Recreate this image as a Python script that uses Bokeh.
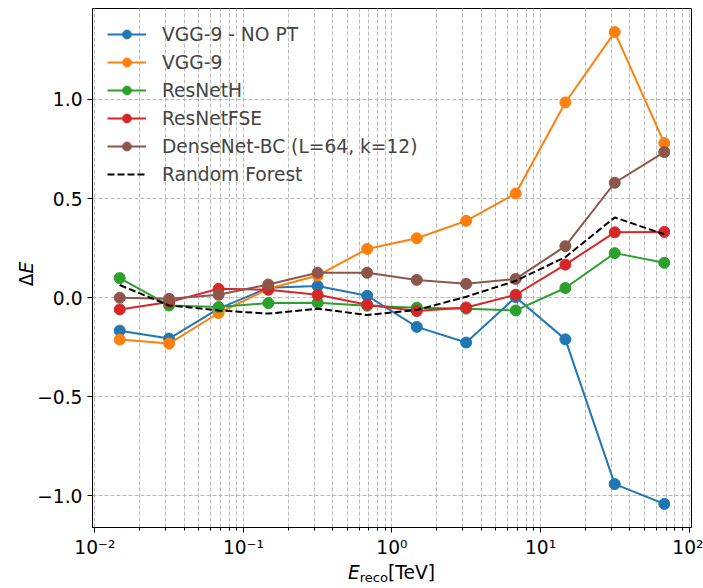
import numpy as np
from bokeh.plotting import figure
from bokeh.layouts import row, column
from bokeh.models import (FixedTicker, CustomJSTickFormatter, Legend,
                          LegendItem, Range1d, Div)
from bokeh.embed import file_html
from bokeh.resources import INLINE

# ---- data ----
energy = [0.0147, 0.0316, 0.0681, 0.147, 0.316, 0.681, 1.47, 3.16, 6.81, 14.7, 31.6, 68.1]

vgg9_nopt = [-0.166, -0.206, -0.055, 0.050, 0.059, 0.010, -0.147, -0.226, 0.003, -0.210, -0.940, -1.040]
vgg9 = [-0.211, -0.231, -0.077, 0.045, 0.112, 0.246, 0.300, 0.388, 0.526, 0.985, 1.340, 0.780]
resneth = [0.099, -0.039, -0.047, -0.027, -0.025, -0.040, -0.050, -0.055, -0.064, 0.049, 0.225, 0.176]
resnetfse = [-0.059, -0.022, 0.045, 0.040, 0.015, -0.035, -0.067, -0.049, 0.015, 0.167, 0.330, 0.332]
densenet = [0.000, -0.005, 0.015, 0.067, 0.126, 0.126, 0.090, 0.070, 0.095, 0.260, 0.580, 0.735]
random_forest = [0.064, -0.039, -0.064, -0.080, -0.055, -0.087, -0.062, 0.005, 0.085, 0.205, 0.405, 0.320]

series_names = ["VGG-9 - NO PT", "VGG-9", "ResNetH", "ResNetFSE",
                "DenseNet-BC (L=64, k=12)", "Random Forest"]
series_values = [vgg9_nopt, vgg9, resneth, resnetfse, densenet, random_forest]
series_colors = ["#1f77b4", "#ff7f0e", "#2ca02c", "#d62728", "#8c564b", "black"]
series_markers = [True, True, True, True, True, False]

x_major_ticks = [0.01, 0.1, 1, 10, 100]
x_minor_ticks = [m * 10.0 ** e for e in range(-3, 3) for m in range(2, 10)]
y_ticks = [-1.0, -0.5, 0.0, 0.5, 1.0]

FONT = "DejaVu Sans"
FS = "14pt"

# ---- ranges (matplotlib-like 5% margins) ----
lx = np.log10(np.array(energy))
xpad = 0.05 * (lx.max() - lx.min())
allv = np.concatenate([np.array(v) for v in series_values])
ypad = 0.05 * (allv.max() - allv.min())

YLAB_W = 33
FIG_W = 703 - YLAB_W
FIG_H = 560
XLAB_H = 588 - FIG_H
LEFT_B = 92 - YLAB_W

p = figure(width=FIG_W, height=FIG_H, x_axis_type="log",
           x_range=Range1d(10 ** (lx.min() - xpad), 10 ** (lx.max() + xpad)),
           y_range=Range1d(allv.min() - ypad, allv.max() + ypad),
           output_backend="svg", toolbar_location=None,
           min_border_left=LEFT_B, min_border_right=12, min_border_top=8,
           min_border_bottom=FIG_H - 529)

p.background_fill_color = "white"
p.border_fill_color = "white"
p.outline_line_color = "black"
p.outline_line_width = 1
p.outline_line_alpha = 1

# ticks
xt = FixedTicker(ticks=x_major_ticks, minor_ticks=x_minor_ticks)
p.xaxis.ticker = xt
p.xgrid.ticker = xt
p.xaxis.formatter = CustomJSTickFormatter(code="""
const e = Math.round(Math.log10(tick));
const sup = {'-':'\u207b','0':'\u2070','1':'\u00b9','2':'\u00b2','3':'\u00b3','4':'\u2074','5':'\u2075','6':'\u2076','7':'\u2077','8':'\u2078','9':'\u2079'};
return '10' + String(e).split('').map(c => sup[c]).join('');
""")
yt = FixedTicker(ticks=y_ticks)
p.yaxis.ticker = yt
p.ygrid.ticker = yt
p.yaxis.formatter = CustomJSTickFormatter(code="return tick.toFixed(1).replace('-', '\u2212');")

for ax in (p.xaxis[0], p.yaxis[0]):
    ax.axis_line_color = "black"
    ax.axis_line_width = 1
    ax.major_tick_line_color = "black"
    ax.major_tick_out = 5
    ax.major_tick_in = 0
    ax.minor_tick_out = 3
    ax.minor_tick_in = 0
    ax.major_label_text_font = FONT
    ax.major_label_text_font_size = FS
    ax.major_label_text_color = "black"
    ax.axis_label = None
p.yaxis.minor_tick_line_color = None
p.xaxis.minor_tick_line_color = "black"
p.xaxis.major_label_standoff = 4
p.yaxis.major_label_standoff = 5

# grid
GRID = "#b8b8b8"
p.xgrid.grid_line_color = GRID
p.xgrid.grid_line_dash = "4 2"
p.xgrid.grid_line_width = 1
p.xgrid.minor_grid_line_color = GRID
p.xgrid.minor_grid_line_dash = "4 2"
p.xgrid.minor_grid_line_width = 1
p.ygrid.grid_line_color = GRID
p.ygrid.grid_line_dash = "4 2"
p.ygrid.grid_line_width = 1

# series
items = []
for name, vals, col, mk in zip(series_names, series_values, series_colors, series_markers):
    if mk:
        r1 = p.line(energy, vals, line_color=col, line_width=2)
        r2 = p.scatter(energy, vals, size=11, fill_color=col, line_color=col, marker="circle")
        items.append(LegendItem(label=name, renderers=[r1, r2]))
    else:
        r1 = p.line(energy, vals, line_color=col, line_width=2, line_dash="7 3")
        items.append(LegendItem(label=name, renderers=[r1]))

legend = Legend(items=items, location="top_left", margin=15, padding=0,
                spacing=6, glyph_width=39, glyph_height=22, label_height=22,
                label_standoff=16, label_text_font=FONT, label_text_font_size=FS,
                background_fill_alpha=0, border_line_alpha=0)
p.add_layout(legend)

# ---- axis labels as real HTML text ----
frame_cx = LEFT_B + (FIG_W - LEFT_B - 12) / 2.0
xlab_html = (
    f'<div style="position:relative;width:{FIG_W}px;height:{XLAB_H}px;">'
    f'<div style="position:absolute;left:{frame_cx:.1f}px;top:13px;'
    'transform:translate(-50%,-50%);white-space:nowrap;line-height:1;'
    f'font-family:\'{FONT}\';font-size:18.67px;color:black;">'
    '<span style="font-style:italic;">E</span>'
    '<span style="font-size:0.7em;position:relative;top:0.25em;">reco</span>'
    '[TeV]</div></div>'
)
ylab_html = (
    f'<div style="position:relative;width:{YLAB_W}px;height:588px;">'
    '<div style="position:absolute;left:26.5px;top:274px;'
    'transform:translate(-50%,-50%) rotate(-90deg);white-space:nowrap;line-height:1;'
    f'font-family:\'{FONT}\';font-size:18.67px;color:black;">'
    '\u0394<span style="font-style:italic;">E</span></div></div>'
)
xdiv = Div(text=xlab_html, width=FIG_W, height=XLAB_H, margin=0)
ydiv = Div(text=ylab_html, width=YLAB_W, height=588, margin=0)

layout = row(ydiv, column(p, xdiv, spacing=0), spacing=0)

open("out.html", "w").write(file_html(layout, INLINE))
